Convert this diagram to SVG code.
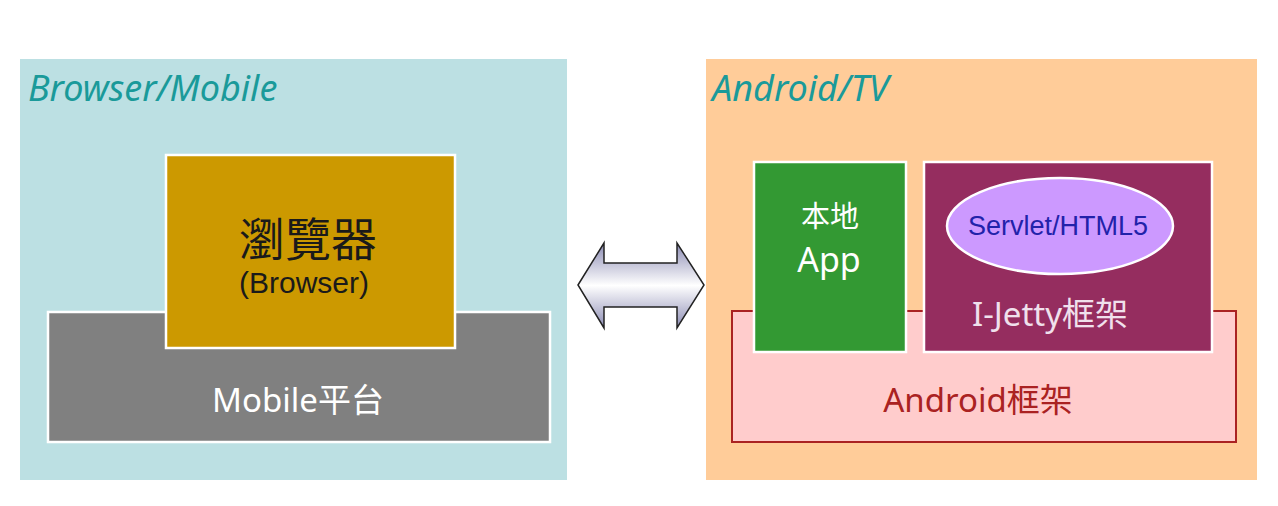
<svg xmlns="http://www.w3.org/2000/svg" width="1278" height="506" viewBox="0 0 1278 506">
<style>
.t{font-family:"Noto Sans","Noto Sans CJK TC",sans-serif}
.a{font-family:"Liberation Sans","Noto Sans CJK TC",sans-serif}
.title{font-size:36px;font-style:italic;fill:#1A9A9A}
.box{stroke:#FFFFFF;stroke-width:2.5}
</style>
<defs>
<linearGradient id="ag" x1="0" y1="0" x2="0" y2="1">
<stop offset="0" stop-color="#8C8CB4"/>
<stop offset="0.5" stop-color="#FFFFFF"/>
<stop offset="1" stop-color="#8C8CB4"/>
</linearGradient>
</defs>
<rect width="1278" height="506" fill="#FFFFFF"/>
<g id="browser-mobile">
<rect x="20" y="59" width="547" height="421" fill="#BCE0E3"/>
<text class="t title" x="28" y="101">Browser/Mobile</text>
</g>
<g id="mobile-platform">
<rect class="box" x="48" y="312" width="502" height="130" fill="#808080"/>
<text class="t" x="298" y="412" font-size="33" fill="#FFFFFF" text-anchor="middle">Mobile平台</text>
</g>
<g id="browser">
<rect class="box" x="166" y="155" width="289" height="193" fill="#CC9900"/>
<text class="t" x="308" y="256" font-size="46" fill="#1A1A1A" text-anchor="middle">瀏覽器</text>
<text class="a" x="304" y="293" font-size="30" fill="#1A1A1A" text-anchor="middle">(Browser)</text>
</g>
<g id="connectors">
<path d="M578,285 L604,243 L604,263 L677,263 L677,243 L704,285 L677,328 L677,307 L604,307 L604,328 Z" fill="url(#ag)" stroke="#222222" stroke-width="1.5" stroke-linejoin="miter"/>
</g>
<g id="android-tv">
<rect x="706" y="59" width="551" height="421" fill="#FFCC99"/>
<text class="t title" x="712" y="101">Android/TV</text>
</g>
<g id="android-framework">
<rect x="732" y="311" width="504" height="131" fill="#FFCCCC" stroke="#AA2222" stroke-width="2"/>
<text class="t" x="978" y="412" font-size="33" fill="#AA2222" text-anchor="middle">Android框架</text>
</g>
<g id="native-app">
<rect class="box" x="754" y="162" width="152" height="190" fill="#339933"/>
<text class="t" x="830" y="227" font-size="29" fill="#FFFFFF" text-anchor="middle">本地</text>
<text class="t" x="829" y="272" font-size="34" fill="#FFFFFF" text-anchor="middle">App</text>
</g>
<g id="ijetty">
<rect class="box" x="924" y="162" width="288" height="190" fill="#952D5F"/>
<text class="t" x="1050" y="326" font-size="33" fill="#F0E0EC" text-anchor="middle">I-Jetty框架</text>
</g>
<g id="servlet">
<ellipse cx="1060" cy="226" rx="113" ry="48" fill="#CC99FF" stroke="#FFFFFF" stroke-width="2.5"/>
<text class="a" x="1058" y="235" font-size="27" fill="#2222AA" text-anchor="middle">Servlet/HTML5</text>
</g>
</svg>
